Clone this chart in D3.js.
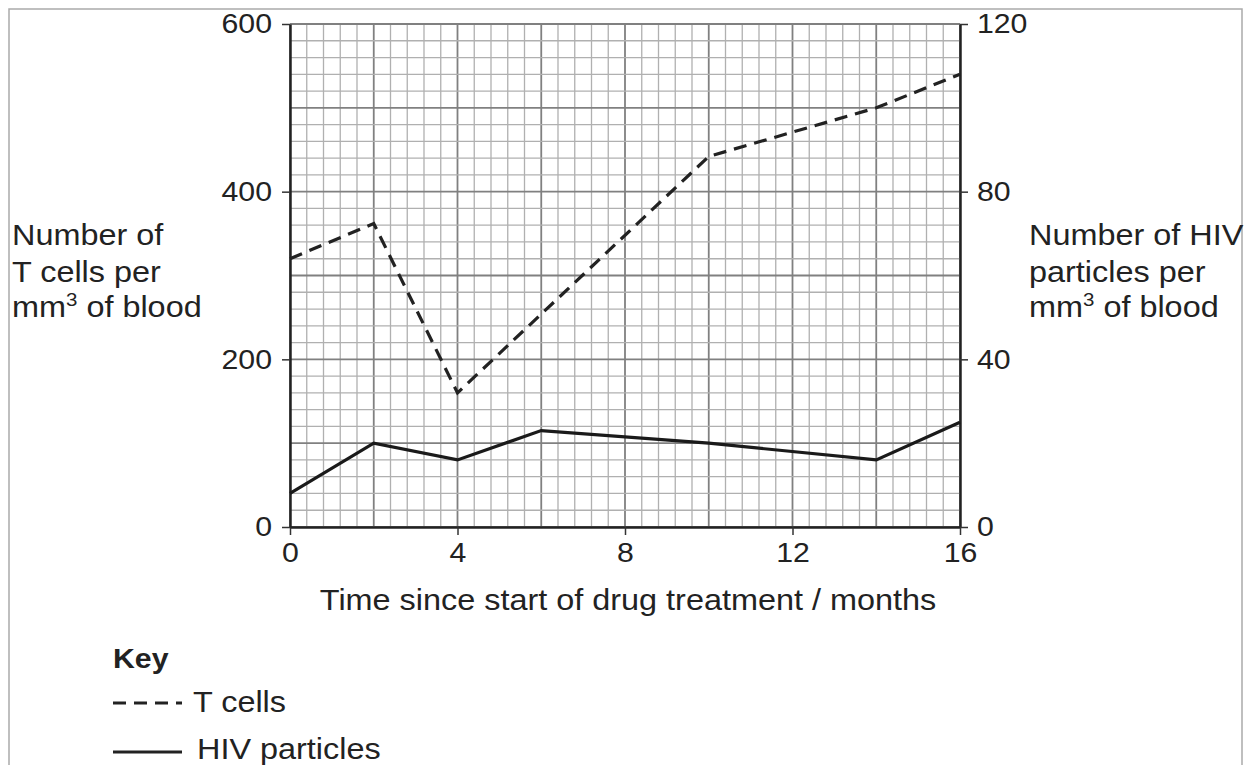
<!DOCTYPE html>
<html>
<head>
<meta charset="utf-8">
<script src="https://cdn.jsdelivr.net/npm/d3@7"></script>
<style>
  body { margin: 0; background: #fff; }
  svg { font-family: "Liberation Sans", Arial, sans-serif; }
  .tick text { font-size: 28px; fill: #222; }
  .axis path.domain { stroke: #222; stroke-width: 2.5; }
  .axis .tick line { stroke: #333; stroke-width: 1.5; }
</style>
</head>
<body>
<svg id="chart" width="1245" height="765"></svg>
<script>
// data
const tcellMonths = [0, 2, 4, 10, 14, 16];
const tcellValues = [320, 362, 160, 442, 500, 540];
const hivMonths = [0, 2, 4, 6, 10, 14, 16];
const hivValues = [8, 20, 16, 23, 20, 16, 25];
const xTicks = [0, 4, 8, 12, 16];
const leftTicks = [0, 200, 400, 600];
const rightTicks = [0, 40, 80, 120];

const svg = d3.select("#chart");
const margin = { top: 24, right: 285, bottom: 238, left: 290 };
const width = 1245 - margin.left - margin.right;
const height = 765 - margin.top - margin.bottom;

// outer frame
svg.append("rect").attr("x", 9).attr("y", 9).attr("width", 1233).attr("height", 770)
  .attr("fill", "none").attr("stroke", "#aaa").attr("stroke-width", 1.5);

const g = svg.append("g").attr("transform", "translate(" + margin.left + "," + margin.top + ")");

const x = d3.scaleLinear().domain([0, 16]).range([0, width]);
const yL = d3.scaleLinear().domain([0, 600]).range([height, 0]);
const yR = d3.scaleLinear().domain([0, 120]).range([height, 0]);

// graph paper
const vx = d3.range(0, 16.001, 0.4);
const hy = d3.range(0, 600.001, 20);
g.append("g").selectAll("line").data(vx).join("line")
  .attr("x1", d => x(d)).attr("x2", d => x(d)).attr("y1", 0).attr("y2", height)
  .attr("stroke", (d, i) => i % 5 === 0 ? "#808080" : "#b0b0b0")
  .attr("stroke-width", (d, i) => i % 5 === 0 ? 1.8 : 1.3);
g.append("g").selectAll("line").data(hy).join("line")
  .attr("y1", d => yL(d)).attr("y2", d => yL(d)).attr("x1", 0).attr("x2", width)
  .attr("stroke", (d, i) => i % 5 === 0 ? "#808080" : "#b0b0b0")
  .attr("stroke-width", (d, i) => i % 5 === 0 ? 1.8 : 1.3);

// axes (tick labels widened a little, like the scan)
const SX = 1.08;
const stretch = sel => sel.selectAll(".tick text").each(function () {
  const t = d3.select(this);
  t.attr("transform", "scale(" + SX + ",1)").attr("x", (+t.attr("x") || 0) / SX);
});
g.append("g").attr("class", "axis")
  .attr("transform", "translate(0," + height + ")")
  .call(d3.axisBottom(x).tickValues(xTicks).tickSize(8).tickSizeOuter(0).tickPadding(7))
  .call(stretch);
g.append("g").attr("class", "axis")
  .call(d3.axisLeft(yL).tickValues(leftTicks).tickSize(8).tickSizeOuter(0).tickPadding(10))
  .call(stretch);
g.append("g").attr("class", "axis")
  .attr("transform", "translate(" + width + ",0)")
  .call(d3.axisRight(yR).tickValues(rightTicks).tickSize(8).tickSizeOuter(0).tickPadding(9))
  .call(stretch);

// lines
const lineL = d3.line().x(d => x(d[0])).y(d => yL(d[1]));
const lineR = d3.line().x(d => x(d[0])).y(d => yR(d[1]));

g.append("path")
  .datum(tcellMonths.map((m, i) => [m, tcellValues[i]]))
  .attr("d", lineL)
  .attr("fill", "none").attr("stroke", "#222").attr("stroke-width", 3.2)
  .attr("stroke-dasharray", "13,8");

g.append("path")
  .datum(hivMonths.map((m, i) => [m, hivValues[i]]))
  .attr("d", lineR)
  .attr("fill", "none").attr("stroke", "#1a1a1a").attr("stroke-width", 3.2);

// text
const txt = (xp, yp, s, opts) => {
  const t = svg.append("text")
    .attr("transform", "translate(" + xp + "," + yp + ") scale(" + SX + ",1)")
    .attr("font-size", (opts && opts.size) || 30).attr("fill", "#222");
  if (opts && opts.weight) t.attr("font-weight", opts.weight);
  if (opts && opts.anchor) t.attr("text-anchor", opts.anchor);
  return t.text(s);
};
const sup = (xp, yp, pre, post) => {
  const t = svg.append("text")
    .attr("transform", "translate(" + xp + "," + yp + ") scale(" + SX + ",1)")
    .attr("font-size", 30).attr("fill", "#222");
  t.append("tspan").text(pre);
  t.append("tspan").attr("font-size", 19).attr("dy", -11).text("3");
  t.append("tspan").attr("dy", 11).text(post);
};

txt(12, 245, "Number of");
txt(12, 282, "T cells per");
sup(12, 317, "mm", " of blood");

txt(1029, 245, "Number of HIV");
txt(1029, 282, "particles per");
sup(1029, 317, "mm", " of blood");

txt(628, 610, "Time since start of drug treatment / months", { anchor: "middle" });

// key
txt(113, 668, "Key", { weight: "bold", size: 28 });
svg.append("line").attr("x1", 113).attr("x2", 182).attr("y1", 703).attr("y2", 703)
  .attr("stroke", "#222").attr("stroke-width", 3).attr("stroke-dasharray", "13,8");
txt(193, 712, "T cells");
svg.append("line").attr("x1", 113).attr("x2", 182).attr("y1", 752).attr("y2", 752)
  .attr("stroke", "#222").attr("stroke-width", 3);
txt(197, 759, "HIV particles");
</script>
</body>
</html>
